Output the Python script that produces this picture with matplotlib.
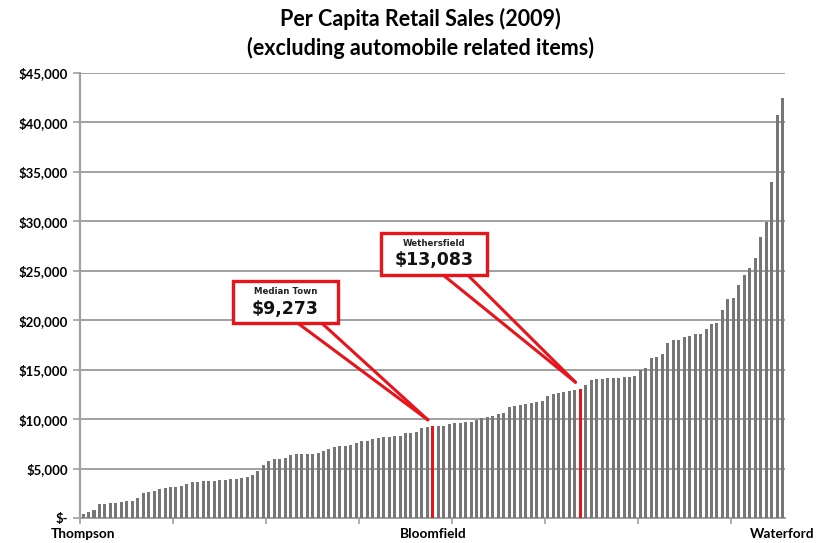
import matplotlib
matplotlib.use("Agg")
import matplotlib.pyplot as plt
import numpy as np
from matplotlib.patches import Rectangle
from matplotlib.ticker import FuncFormatter

# Per capita retail sales, towns sorted ascending
sales = [
    400, 620, 850, 1400, 1430, 1480, 1550, 1620, 1690, 1760,
    1980, 2560, 2640, 2720, 2900, 3060, 3100, 3160, 3220, 3440,
    3660, 3680, 3700, 3730, 3760, 3820, 3880, 3920, 3960, 4080,
    4100, 4380, 4790, 5400, 5800, 5930, 5980, 6100, 6420, 6460,
    6480, 6480, 6500, 6620, 6780, 6980, 7180, 7250, 7290, 7340,
    7620, 7760, 7800, 8020, 8130, 8170, 8210, 8260, 8290, 8570,
    8630, 8700, 9150, 9210, 9273, 9280, 9300, 9540, 9590, 9630,
    9670, 9750, 9950, 10080, 10200, 10330, 10500, 10640, 11190, 11310,
    11380, 11520, 11600, 11750, 11830, 12300, 12560, 12620, 12700, 12850,
    12940, 13083, 13480, 13930, 14020, 14070, 14120, 14170, 14200, 14220,
    14260, 14400, 14940, 15210, 16150, 16300, 16550, 17700, 17970, 18040,
    18300, 18440, 18570, 18640, 19150, 19650, 19680, 20990, 22170, 22240,
    23520, 24590, 25260, 26270, 28390, 29900, 34010, 40740, 42460,
]
labelled_towns = {0: "Thompson", 64: "Bloomfield", 128: "Waterford"}
highlights = [
    (64, "Median Town", "$9,273"),
    (91, "Wethersfield", "$13,083"),
]
y_ticks = list(range(0, 45001, 5000))

RED = "#e8141c"
BAR_GREY = "#767676"
GRID_GREY = "#a0a0a0"

plt.rcParams["font.family"] = ["Lato", "DejaVu Sans"]

fig = plt.figure(figsize=(8.24, 5.43), dpi=100)
ax = fig.add_axes([0.0975, 0.046, 0.8555, 0.8195])

n = len(sales)
x = np.arange(n)
colors = [BAR_GREY] * n
for idx, _, _ in highlights:
    colors[idx] = RED
ax.bar(x, sales, width=0.55, color=colors, zorder=3)

ax.set_xlim(-0.5, n - 0.5)
ax.set_ylim(0, 45000)

ax.set_yticks(y_ticks)
ax.yaxis.set_major_formatter(
    FuncFormatter(lambda v, p: "$-" if v == 0 else f"${v:,.0f}")
)
ax.grid(axis="y", color=GRID_GREY, linewidth=1.4, zorder=0)
ax.tick_params(axis="y", length=5, width=1.2, color=GRID_GREY, pad=4,
               labelsize=9.5)
for lab in ax.get_yticklabels():
    lab.set_fontweight("bold")

# category labels only for first, median, last town; tick marks every 17
ax.set_xticks(list(labelled_towns.keys()))
ax.set_xticklabels(list(labelled_towns.values()), fontweight="bold",
                   fontsize=9.8)
ax.set_xticks(np.arange(-0.5, n, 17), minor=True)
ax.tick_params(axis="x", which="major", length=0, pad=7)
ax.tick_params(axis="x", which="minor", length=4, width=1.2, color=GRID_GREY)

for side in ["top", "right"]:
    ax.spines[side].set_visible(False)
ax.spines["left"].set_color(GRID_GREY)
ax.spines["left"].set_linewidth(1.6)
ax.spines["bottom"].set_color(GRID_GREY)
ax.spines["bottom"].set_linewidth(1.4)

fig.text(0.51, 0.965, "Per Capita Retail Sales (2009)", ha="center",
         va="center", fontsize=15.5, fontweight="bold")
fig.text(0.51, 0.912, "(excluding automobile related items)", ha="center",
         va="center", fontsize=15.5, fontweight="bold")

# callout boxes: (x0, x1, y0, y1) in data units, plus wedge feet on box bottom
callouts = [
    ((27.4, 46.6, 19700, 23950), (39.3, 43.7)),
    ((54.5, 73.9, 24570, 28800), (65.9, 70.4)),
]
for (idx, name, amount), (box, feet) in zip(highlights, callouts):
    x0, x1, y0, y1 = box
    tip_x = idx - 0.9
    tip_y = sales[idx] + 650
    for fx in feet:
        ax.plot([fx, tip_x], [y0, tip_y], color=RED, linewidth=2.2,
                zorder=5, solid_capstyle="round")
    ax.add_patch(Rectangle((x0, y0), x1 - x0, y1 - y0, facecolor="white",
                           edgecolor=RED, linewidth=2.4, zorder=6))
    cx = (x0 + x1) / 2
    ax.text(cx, y0 + (y1 - y0) * 0.76, name, ha="center", va="center",
            fontsize=6.2, fontweight="bold", family="DejaVu Sans",
            color="#222222", zorder=7)
    ax.text(cx, y0 + (y1 - y0) * 0.35, amount, ha="center", va="center",
            fontsize=12.5, fontweight="heavy", family="DejaVu Sans",
            color="#111111", zorder=7)

fig.savefig("out.png", dpi=100)
